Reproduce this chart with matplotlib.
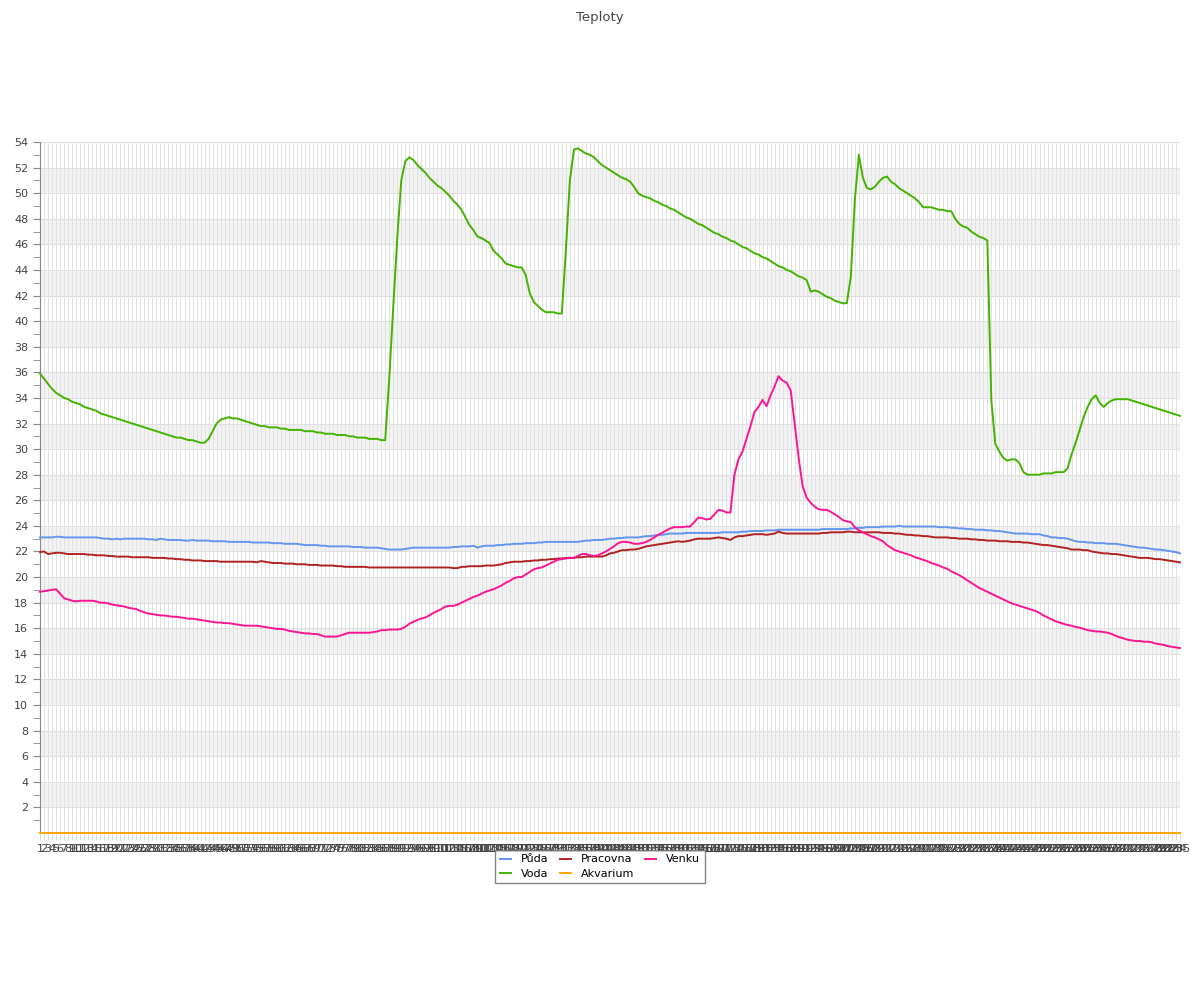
import matplotlib
matplotlib.use('Agg')
import matplotlib.pyplot as plt
import numpy as np

# data, one value per sample (1..285)
puda = [23.1, 23.1, 23.1, 23.1, 23.15, 23.15, 23.1, 23.1, 23.1, 23.1,
        23.1, 23.1, 23.1, 23.1, 23.1, 23.05, 23.0, 23.0, 22.95, 23.0,
        22.95, 23.0, 23.0, 23.0, 23.0, 23.0, 23.0, 22.95, 22.95, 22.9,
        23.0, 22.95, 22.9, 22.9, 22.9, 22.9, 22.85, 22.85, 22.9, 22.85,
        22.85, 22.85, 22.85, 22.8, 22.8, 22.8, 22.8, 22.75, 22.75, 22.75,
        22.75, 22.75, 22.75, 22.7, 22.7, 22.7, 22.7, 22.7, 22.65, 22.65,
        22.65, 22.6, 22.6, 22.6, 22.6, 22.55, 22.5, 22.5, 22.5, 22.5,
        22.45, 22.45, 22.4, 22.4, 22.4, 22.4, 22.4, 22.4, 22.35, 22.35,
        22.35, 22.3, 22.3, 22.3, 22.3, 22.25, 22.2, 22.15, 22.15, 22.15,
        22.15, 22.2, 22.25, 22.3, 22.3, 22.3, 22.3, 22.3, 22.3, 22.3,
        22.3, 22.3, 22.3, 22.35, 22.35, 22.4, 22.4, 22.4, 22.45, 22.3,
        22.4, 22.45, 22.45, 22.45, 22.5, 22.5, 22.55, 22.55, 22.6, 22.6,
        22.6, 22.65, 22.65, 22.65, 22.7, 22.7, 22.75, 22.75, 22.75, 22.75,
        22.75, 22.75, 22.75, 22.75, 22.75, 22.8, 22.85, 22.85, 22.9, 22.9,
        22.9, 22.95, 23.0, 23.0, 23.05, 23.05, 23.1, 23.1, 23.1, 23.1,
        23.15, 23.2, 23.2, 23.25, 23.3, 23.3, 23.35, 23.4, 23.4, 23.4,
        23.4, 23.45, 23.45, 23.45, 23.45, 23.45, 23.45, 23.45, 23.45, 23.45,
        23.5, 23.5, 23.5, 23.5, 23.5, 23.55, 23.55, 23.6, 23.6, 23.6,
        23.6, 23.65, 23.65, 23.65, 23.7, 23.7, 23.7, 23.7, 23.7, 23.7,
        23.7, 23.7, 23.7, 23.7, 23.7, 23.75, 23.75, 23.75, 23.75, 23.75,
        23.75, 23.75, 23.8, 23.8, 23.85, 23.85, 23.9, 23.9, 23.9, 23.9,
        23.95, 23.95, 23.95, 23.95, 24.0, 23.95, 23.95, 23.95, 23.95, 23.95,
        23.95, 23.95, 23.95, 23.95, 23.9, 23.9, 23.9, 23.85, 23.85, 23.8,
        23.8, 23.75, 23.75, 23.7, 23.7, 23.7, 23.65, 23.65, 23.6, 23.6,
        23.55, 23.5, 23.45, 23.4, 23.4, 23.4, 23.4, 23.35, 23.35, 23.35,
        23.25, 23.2, 23.1, 23.1, 23.05, 23.05, 23.0, 22.9, 22.8, 22.75,
        22.75, 22.7, 22.7, 22.65, 22.65, 22.65, 22.6, 22.6, 22.6, 22.55,
        22.5, 22.45, 22.4, 22.35, 22.3, 22.3, 22.25, 22.2, 22.15, 22.15,
        22.1, 22.05, 22.0, 21.95, 21.85]

voda = [35.9, 35.5, 35.1, 34.7, 34.4, 34.2, 34.0, 33.9, 33.7, 33.6,
        33.5, 33.3, 33.2, 33.1, 33.0, 32.8, 32.7, 32.6, 32.5, 32.4,
        32.3, 32.2, 32.1, 32.0, 31.9, 31.8, 31.7, 31.6, 31.5, 31.4,
        31.3, 31.2, 31.1, 31.0, 30.9, 30.9, 30.8, 30.7, 30.7, 30.6,
        30.5, 30.5, 30.8, 31.4, 32.0, 32.3, 32.4, 32.5, 32.4, 32.4,
        32.3, 32.2, 32.1, 32.0, 31.9, 31.8, 31.8, 31.7, 31.7, 31.7,
        31.6, 31.6, 31.5, 31.5, 31.5, 31.5, 31.4, 31.4, 31.4, 31.3,
        31.3, 31.2, 31.2, 31.2, 31.1, 31.1, 31.1, 31.0, 31.0, 30.9,
        30.9, 30.9, 30.8, 30.8, 30.8, 30.7, 30.7, 35.5, 41.1, 46.5,
        51.0, 52.5, 52.8, 52.6, 52.2, 51.9, 51.6, 51.2, 50.9, 50.6,
        50.4, 50.1, 49.8, 49.4, 49.1, 48.7, 48.1, 47.5, 47.1, 46.6,
        46.5, 46.3, 46.1, 45.5, 45.2, 44.9, 44.5, 44.4, 44.3, 44.2,
        44.2, 43.6, 42.2, 41.5, 41.2, 40.9, 40.7, 40.7, 40.7, 40.6,
        40.6, 45.5, 51.0, 53.4, 53.5, 53.3, 53.1, 53.0, 52.8, 52.5,
        52.2, 52.0, 51.8, 51.6, 51.4, 51.2, 51.1, 50.9, 50.5, 50.0,
        49.8, 49.7, 49.6, 49.4, 49.3, 49.1, 49.0, 48.8, 48.7, 48.5,
        48.3, 48.1, 48.0, 47.8, 47.6, 47.5, 47.3, 47.1, 46.9, 46.8,
        46.6, 46.5, 46.3, 46.2, 46.0, 45.8, 45.7, 45.5, 45.3, 45.2,
        45.0, 44.9, 44.7, 44.5, 44.3, 44.2, 44.0, 43.9, 43.7, 43.5,
        43.4, 43.2, 42.3, 42.4, 42.3, 42.1, 41.9, 41.8, 41.6, 41.5,
        41.4, 41.4, 43.5, 49.5, 53.0, 51.2, 50.4, 50.3, 50.5, 50.9,
        51.2, 51.3, 50.9, 50.7, 50.4, 50.2, 50.0, 49.8, 49.6, 49.3,
        48.9, 48.9, 48.9, 48.8, 48.7, 48.7, 48.6, 48.6, 48.0, 47.6,
        47.4, 47.3, 47.0, 46.8, 46.6, 46.5, 46.3, 33.8, 30.4, 29.8,
        29.3, 29.1, 29.2, 29.2, 28.9, 28.2, 28.0, 28.0, 28.0, 28.0,
        28.1, 28.1, 28.1, 28.2, 28.2, 28.2, 28.5, 29.6, 30.5, 31.5,
        32.5, 33.3, 33.9, 34.2, 33.6, 33.3, 33.6, 33.8, 33.9, 33.9,
        33.9, 33.9, 33.8, 33.7, 33.6, 33.5, 33.4, 33.3, 33.2, 33.1,
        33.0, 32.9, 32.8, 32.7, 32.6]

pracovna = [21.95, 22.0, 21.8, 21.85, 21.9, 21.9, 21.85, 21.8, 21.8, 21.8,
            21.8, 21.8, 21.75, 21.75, 21.7, 21.7, 21.7, 21.65, 21.65, 21.6,
            21.6, 21.6, 21.6, 21.55, 21.55, 21.55, 21.55, 21.55, 21.5, 21.5,
            21.5, 21.5, 21.45, 21.45, 21.4, 21.4, 21.35, 21.35, 21.3, 21.3,
            21.3, 21.25, 21.25, 21.25, 21.25, 21.2, 21.2, 21.2, 21.2, 21.2,
            21.2, 21.2, 21.2, 21.2, 21.15, 21.25, 21.2, 21.15, 21.1, 21.1,
            21.1, 21.05, 21.05, 21.05, 21.0, 21.0, 21.0, 20.95, 20.95, 20.95,
            20.9, 20.9, 20.9, 20.9, 20.85, 20.85, 20.8, 20.8, 20.8, 20.8,
            20.8, 20.8, 20.75, 20.75, 20.75, 20.75, 20.75, 20.75, 20.75, 20.75,
            20.75, 20.75, 20.75, 20.75, 20.75, 20.75, 20.75, 20.75, 20.75, 20.75,
            20.75, 20.75, 20.75, 20.7, 20.7, 20.8, 20.8, 20.85, 20.85, 20.85,
            20.85, 20.9, 20.9, 20.9, 20.95, 21.0, 21.1, 21.15, 21.2, 21.2,
            21.2, 21.25, 21.25, 21.3, 21.3, 21.35, 21.35, 21.4, 21.4, 21.45,
            21.45, 21.5, 21.5, 21.5, 21.55, 21.55, 21.6, 21.6, 21.6, 21.6,
            21.6, 21.7, 21.85, 21.9, 22.0, 22.1, 22.1, 22.15, 22.15, 22.2,
            22.3, 22.4, 22.45, 22.5, 22.55, 22.6, 22.65, 22.7, 22.75, 22.8,
            22.75, 22.8, 22.85, 22.95, 23.0, 23.0, 23.0, 23.0, 23.05, 23.1,
            23.05, 23.0, 22.9, 23.1, 23.2, 23.2, 23.25, 23.3, 23.35, 23.35,
            23.35, 23.3, 23.35, 23.4, 23.55, 23.45, 23.4, 23.4, 23.4, 23.4,
            23.4, 23.4, 23.4, 23.4, 23.4, 23.45, 23.45, 23.5, 23.5, 23.5,
            23.5, 23.55, 23.55, 23.5, 23.5, 23.5, 23.5, 23.5, 23.5, 23.5,
            23.45, 23.45, 23.45, 23.4, 23.4, 23.35, 23.3, 23.3, 23.25, 23.25,
            23.2, 23.2, 23.15, 23.1, 23.1, 23.1, 23.1, 23.05, 23.05, 23.0,
            23.0, 23.0, 22.95, 22.95, 22.9, 22.9, 22.85, 22.85, 22.85, 22.8,
            22.8, 22.8, 22.75, 22.75, 22.75, 22.7, 22.7, 22.65, 22.6, 22.55,
            22.5, 22.5, 22.45, 22.4, 22.35, 22.3, 22.25, 22.15, 22.15, 22.15,
            22.1, 22.1, 22.0, 21.95, 21.9, 21.85, 21.85, 21.8, 21.8, 21.75,
            21.7, 21.65, 21.6, 21.55, 21.5, 21.5, 21.5, 21.45, 21.4, 21.4,
            21.35, 21.3, 21.25, 21.2, 21.15]

akvarium = [0.0] * 285

venku = [18.85, 18.9, 18.95, 19.0, 19.05, 18.7, 18.35, 18.25, 18.15, 18.1,
         18.15, 18.15, 18.15, 18.15, 18.1, 18.0, 18.0, 17.95, 17.85, 17.8,
         17.75, 17.7, 17.6, 17.55, 17.5, 17.35, 17.25, 17.15, 17.1, 17.05,
         17.0, 17.0, 16.95, 16.9, 16.9, 16.85, 16.8, 16.75, 16.75, 16.7,
         16.65, 16.6, 16.55, 16.5, 16.45, 16.45, 16.4, 16.4, 16.35, 16.3,
         16.25, 16.2, 16.2, 16.2, 16.2, 16.15, 16.1, 16.05, 16.0, 15.95,
         15.95, 15.9, 15.8, 15.75, 15.7, 15.65, 15.6, 15.6, 15.55, 15.55,
         15.45, 15.35, 15.35, 15.35, 15.35, 15.45, 15.55, 15.65, 15.65, 15.65,
         15.65, 15.65, 15.65, 15.7, 15.75, 15.85, 15.85, 15.9, 15.9, 15.9,
         15.95, 16.1, 16.35, 16.5, 16.65, 16.75, 16.85, 17.0, 17.2, 17.35,
         17.5, 17.7, 17.75, 17.75, 17.85, 18.0, 18.15, 18.3, 18.45, 18.55,
         18.7, 18.85, 18.95, 19.05, 19.2, 19.35, 19.55, 19.7, 19.9, 20.0,
         20.0, 20.2, 20.4, 20.6, 20.7, 20.75, 20.9, 21.05, 21.2, 21.35,
         21.4, 21.45, 21.5, 21.5, 21.65, 21.8, 21.8, 21.7, 21.65, 21.7,
         21.85, 22.0, 22.2, 22.4, 22.65, 22.75, 22.75, 22.7, 22.6, 22.6,
         22.65, 22.75, 22.9, 23.1, 23.3, 23.45, 23.65, 23.8, 23.9, 23.9,
         23.9, 23.95, 23.95, 24.3, 24.65, 24.6, 24.5, 24.55, 24.9, 25.25,
         25.2, 25.05, 25.05, 28.0, 29.2, 29.8, 30.8, 31.8, 32.9, 33.3,
         33.85, 33.35, 34.2, 34.9, 35.7, 35.35, 35.2, 34.6, 32.0, 29.3,
         27.1, 26.2, 25.8, 25.5, 25.3, 25.25, 25.25, 25.1, 24.9, 24.7,
         24.45, 24.35, 24.3, 23.9, 23.65, 23.5, 23.35, 23.2, 23.1, 22.95,
         22.8, 22.5, 22.3, 22.1, 22.0, 21.9, 21.8, 21.7, 21.55, 21.45,
         21.35, 21.25, 21.1, 21.0, 20.9, 20.75, 20.65, 20.45, 20.3, 20.15,
         19.95, 19.75, 19.55, 19.35, 19.15, 19.0, 18.85, 18.7, 18.55, 18.4,
         18.25, 18.1, 17.95, 17.85, 17.75, 17.65, 17.55, 17.45, 17.35, 17.2,
         17.0, 16.85, 16.7, 16.55, 16.45, 16.35, 16.25, 16.2, 16.1, 16.05,
         15.95, 15.85, 15.8, 15.75, 15.75, 15.7, 15.65, 15.55, 15.4, 15.3,
         15.2, 15.1, 15.05, 15.0, 15.0, 14.95, 14.95, 14.9, 14.8, 14.75,
         14.7, 14.6, 14.55, 14.5, 14.45]

samples = list(range(1, len(puda) + 1))
x_labels = [str(s) for s in samples]

series = [('Půda', puda, '#6495ed'),
          ('Voda', voda, '#44b300'),
          ('Pracovna', pracovna, '#b22222'),
          ('Akvarium', akvarium, '#ffa500'),
          ('Venku', venku, '#ff1493')]

fig = plt.figure(figsize=(12, 10), dpi=100)
ax = fig.add_axes([40 / 1200, 0.167, 1140 / 1200, 0.691])

# alternating bands and grid
for lo in range(2, 54, 4):
    ax.axhspan(lo, lo + 2, color='#f3f3f3', zorder=0, lw=0)
for y in range(2, 55, 2):
    ax.axhline(y, color='#dedede', lw=0.75, zorder=1)
for s in samples:
    ax.axvline(s, color='#e2e2e2', lw=0.75, zorder=1)

for name, vals, col in series:
    ax.plot(samples, vals, color=col, lw=1.4, label=name, zorder=3, clip_on=False)

ax.set_xlim(1, len(samples))
ax.set_ylim(0, 54)
ax.set_yticks(range(2, 55, 2))
ax.set_yticks(range(1, 55, 2), minor=True)
ax.set_xticks(samples)
ax.set_xticklabels(x_labels, fontsize=8, color='#444444')
ax.tick_params(axis='y', labelsize=8, labelcolor='#444444', color='#888888',
               length=5, which='both')
ax.tick_params(axis='x', color='#dddddd', length=5, width=0.75, pad=3)

for side in ['top', 'right', 'bottom']:
    ax.spines[side].set_visible(False)
ax.spines['left'].set_color('#888888')

fig.text(0.5, 0.989, 'Teploty', ha='center', va='top', fontsize=9.5, color='#444444')

# legend centred on the figure, not the axes
leg = fig.legend(ncol=3, loc='upper center', bbox_to_anchor=(0.5, 0.1555),
                 fontsize=8, frameon=True, fancybox=False, handlelength=1.0,
                 handletextpad=0.9, columnspacing=1.0, borderpad=0.4,
                 labelspacing=0.4)
leg.get_frame().set_edgecolor('#666666')
leg.get_frame().set_linewidth(1)

fig.savefig('out.png', dpi=100)
